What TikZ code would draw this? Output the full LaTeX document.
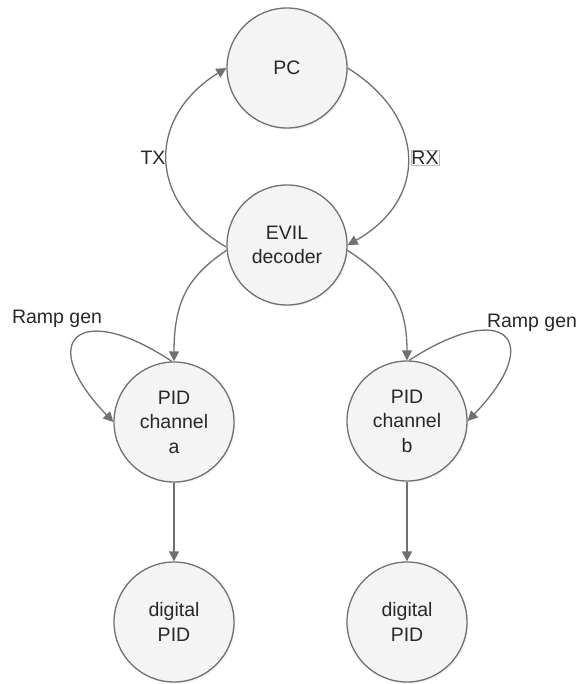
\documentclass[tikz,border=0pt]{standalone}
\usepackage{fontspec}
\setmainfont{Liberation Sans}
\usetikzlibrary{arrows.meta,shadows}
\definecolor{edge}{RGB}{112,112,112}
\definecolor{bubble}{RGB}{244,244,244}
\definecolor{ink}{RGB}{40,40,40}
\begin{document}
\begin{tikzpicture}[x=1pt,y=-1pt,
  state/.style={circle,draw=edge,line width=1.3pt,fill=bubble,text=ink,
    minimum size=120pt,inner sep=0pt,align=center,
    font=\fontsize{19.5}{24.5}\selectfont,
    drop shadow={shadow xshift=1.5pt,shadow yshift=-1.5pt,fill=black!10}},
  link/.style={draw=edge,line width=1.3pt,
    -{Triangle[length=10pt,width=10pt]}},
  tag/.style={font=\fontsize{19.5}{24}\selectfont,text=ink,inner sep=1pt}]
\useasboundingbox (0,0) rectangle (580,684);

% nodes
\node[state] (pc)    at (287,68)  {PC};
\node[state] (evil)  at (287,245) {EVIL\\decoder};
\node[state] (pida)  at (174,422) {PID\\channel\\a};
\node[state] (pidb)  at (407,421) {PID\\channel\\b};
\node[state] (dpida) at (174,622) {digital\\PID};
\node[state] (dpidb) at (407,622) {digital\\PID};

% serial link between decoder and PC
\draw[link] (evil.182) .. controls +(-81,-47) and +(-78,48) .. (pc.180);
\draw[link] (pc.0) .. controls +(80,50) and +(80,-45) .. (evil.0);
\node[tag] (tx) at (153,158) {TX};
\node[tag,draw=black!25,line width=0.6pt,inner sep=0.5pt] (rx) at (425,158) {RX};

% decoder to channels
\draw[link] (evil.185) .. controls +(-37,25) and +(0,-62) .. (pida.90);
\draw[link] (evil.355) .. controls +(38,25) and +(0,-62) .. (pidb.90);

% ramp generator self loops
\draw[link] (pida.92) .. controls +(-93,-62) and +(-79,-82) .. (pida.180);
\draw[link] (pidb.88) .. controls +(95,-62) and +(79,-82) .. (pidb.0);
\node[tag] (rampa) at (57,319) {Ramp gen};
\node[tag] (rampb) at (532,323) {Ramp gen};

% channels to digital PID
\draw[link] (pida.south) -- (dpida.north);
\draw[link] (pidb.south) -- (dpidb.north);
\end{tikzpicture}
\end{document}
